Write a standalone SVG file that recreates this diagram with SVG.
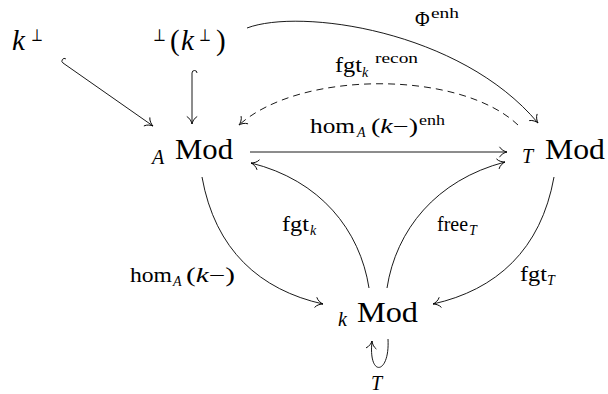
<svg xmlns="http://www.w3.org/2000/svg" width="608" height="394" viewBox="0 0 608 394" font-family="'Liberation Serif', 'DejaVu Serif', serif">
<style>
text{fill:#000}
.big{font-size:29px}
.lab{font-size:20px}
.sub{font-size:14px}
.it{font-style:italic}
.sym{font-size:17px;font-family:'DejaVu Serif',serif}
.c{fill:none;stroke:#000;stroke-width:0.9}
.d{stroke-dasharray:7 5}
</style>
<defs>
<marker id="arr" viewBox="-9 -7 11 14" refX="0" refY="0" markerWidth="11" markerHeight="14" markerUnits="userSpaceOnUse" orient="auto">
<path d="M-7.5,-5.2 C-5.8,-2.1 -2.3,-0.5 0,0 C-2.3,0.5 -5.8,2.1 -7.5,5.2" fill="none" stroke="#000" stroke-width="0.9"/>
</marker>
</defs>
<g id="n-kperp">
<text class="big it" x="12" y="50">k</text>
<text class="sym" x="31" y="41" textLength="12" lengthAdjust="spacingAndGlyphs">⊥</text>
</g>
<g id="n-perpkperp">
<text class="sym" x="153" y="41" textLength="13" lengthAdjust="spacingAndGlyphs">⊥</text>
<text class="big" x="170" y="50">(</text>
<text class="big it" x="181" y="50">k</text>
<text class="sym" x="199" y="41" textLength="12" lengthAdjust="spacingAndGlyphs">⊥</text>
<text class="big" x="216" y="50">)</text>
</g>
<g id="n-AMod">
<text class="lab it" x="152" y="164">A</text>
<text class="big" x="175" y="159" textLength="58" lengthAdjust="spacingAndGlyphs">Mod</text>
</g>
<g id="n-TMod">
<text class="lab it" x="522" y="163">T</text>
<text class="big" x="545" y="159" textLength="60" lengthAdjust="spacingAndGlyphs">Mod</text>
</g>
<g id="n-kMod">
<text class="lab it" x="338" y="326">k</text>
<text class="big" x="357" y="322" textLength="61" lengthAdjust="spacingAndGlyphs">Mod</text>
</g>
<g id="connectors">
<path class="c" marker-end="url(#arr)" d="M65.9,58.9 A2.5,2.5 0 0 0 63,63 L153,126"/>
<path class="c" marker-end="url(#arr)" d="M197,73 A2.5,2.5 0 0 0 192,73 L192,124"/>
<path class="c" marker-end="url(#arr)" d="M247,28 C300,8 460,30 538,123"/>
<path class="c d" marker-end="url(#arr)" d="M518,125 C460,70 300,70 239,125"/>
<path class="c" marker-end="url(#arr)" d="M250,152 L507,152"/>
<path class="c" marker-end="url(#arr)" d="M202,177 C215,250 260,290 323,304"/>
<path class="c" marker-end="url(#arr)" d="M369,288 C360,230 320,180 251,163"/>
<path class="c" marker-end="url(#arr)" d="M387,288 C396,230 436,180 505,162"/>
<path class="c" marker-end="url(#arr)" d="M554,177 C541,250 496,290 433,304"/>
<path class="c" marker-end="url(#arr)" d="M388,339 C390,375 368,378 372,341"/>
<g id="labels">
<text class="lab" x="415" y="26">Φ</text>
<text class="sub" x="431" y="18" textLength="28" lengthAdjust="spacingAndGlyphs">enh</text>
<text class="lab" x="335" y="72" textLength="27" lengthAdjust="spacingAndGlyphs">fgt</text>
<text class="sub it" x="362" y="77">k</text>
<text class="sub" x="375" y="63" textLength="43" lengthAdjust="spacingAndGlyphs">recon</text>
<text class="lab" x="310" y="133" textLength="45" lengthAdjust="spacingAndGlyphs">hom</text>
<text class="sub it" x="357" y="137">A</text>
<text class="lab" x="371" y="133" textLength="47" lengthAdjust="spacingAndGlyphs">(<tspan class="it">k</tspan>−)</text>
<text class="sub" x="419" y="125" textLength="26" lengthAdjust="spacingAndGlyphs">enh</text>
<text class="lab" x="130" y="282" textLength="42" lengthAdjust="spacingAndGlyphs">hom</text>
<text class="sub it" x="173" y="286">A</text>
<text class="lab" x="186" y="282" textLength="49" lengthAdjust="spacingAndGlyphs">(<tspan class="it">k</tspan>−)</text>
<text class="lab" x="282" y="231" textLength="27" lengthAdjust="spacingAndGlyphs">fgt</text>
<text class="sub it" x="310" y="235">k</text>
<text class="lab" x="437" y="231" textLength="31" lengthAdjust="spacingAndGlyphs">free</text>
<text class="sub it" x="469" y="235">T</text>
<text class="lab" x="520" y="281" textLength="27" lengthAdjust="spacingAndGlyphs">fgt</text>
<text class="sub it" x="547" y="285">T</text>
<text class="lab it" x="371" y="390">T</text>
</g>
</g>
</svg>
